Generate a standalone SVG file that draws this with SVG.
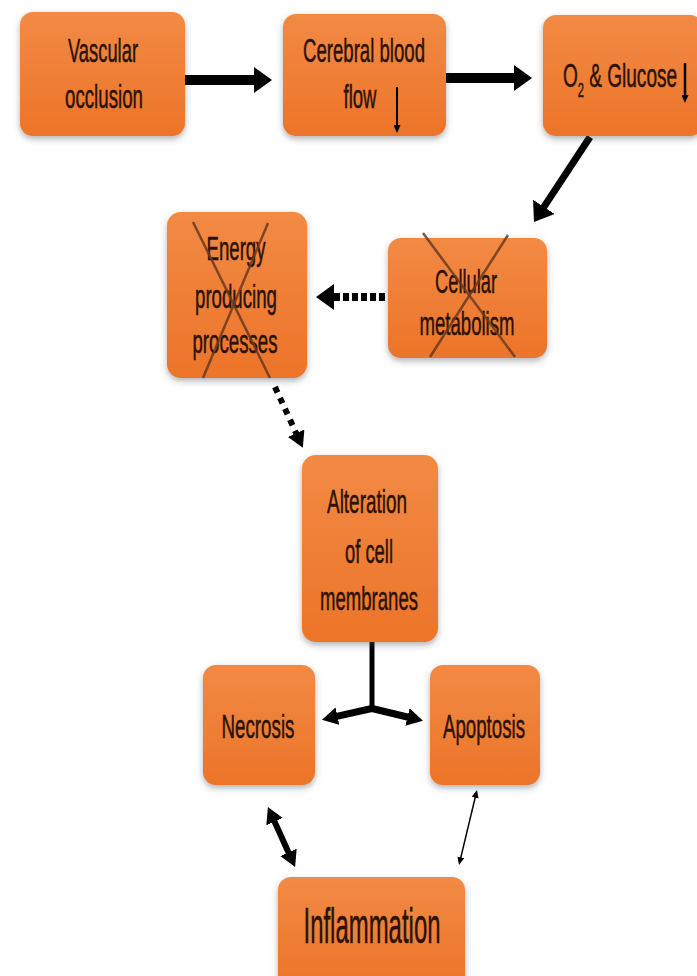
<svg xmlns="http://www.w3.org/2000/svg" width="697" height="976" viewBox="0 0 697 976">
<style>
.box{fill:url(#og);filter:url(#sh)}
.t{font-family:"Liberation Sans",Arial,sans-serif;font-size:34px;fill:#2a1208;stroke:#2a1208;stroke-width:0.5;text-anchor:middle}
.x{stroke:#6a3a1e;stroke-width:2.5;stroke-opacity:0.85;fill:none}
.c{stroke:#000;fill:none}
</style>
<defs>
<linearGradient id="og" x1="0" y1="0" x2="0" y2="1">
<stop offset="0" stop-color="#f28a44"/>
<stop offset="1" stop-color="#ec7429"/>
</linearGradient>
<filter id="sh" x="-10%" y="-10%" width="120%" height="125%">
<feDropShadow dx="0" dy="3" stdDeviation="3" flood-color="#555" flood-opacity="0.45"/>
</filter>
<marker id="hb" markerUnits="userSpaceOnUse" markerWidth="18" markerHeight="26" refX="2" refY="13" orient="auto-start-reverse">
<path d="M0,0 L18,13 L0,26 z" fill="#000"/>
</marker>
<marker id="hm" markerUnits="userSpaceOnUse" markerWidth="16" markerHeight="18" refX="2" refY="9" orient="auto-start-reverse">
<path d="M0,0 L16,9 L0,18 z" fill="#000"/>
</marker>
<marker id="hs" markerUnits="userSpaceOnUse" markerWidth="8" markerHeight="7" refX="2" refY="3.5" orient="auto-start-reverse">
<path d="M0,0 L8,3.5 L0,7 z" fill="#000"/>
</marker>
</defs>
<rect width="697" height="976" fill="#fff"/>

<g id="connectors">
<line class="c" x1="185" y1="80" x2="256" y2="80" stroke-width="10" marker-end="url(#hb)"/>
<line class="c" x1="446" y1="78" x2="516" y2="78" stroke-width="10" marker-end="url(#hb)"/>
<line class="c" x1="590" y1="137" x2="542.8" y2="208.6" stroke-width="7" marker-end="url(#hb)"/>
<line class="c" x1="385" y1="297" x2="332" y2="297" stroke-width="8" stroke-dasharray="6 3" marker-end="url(#hb)"/>
<line class="c" x1="275" y1="387" x2="297" y2="435" stroke-width="6" stroke-dasharray="6 6" marker-end="url(#hm)"/>
<line class="c" x1="372" y1="642" x2="372" y2="709" stroke-width="5"/>
<line class="c" x1="374" y1="708" x2="335.6" y2="716.7" stroke-width="7" marker-end="url(#hm)"/>
<line class="c" x1="370" y1="708" x2="409.4" y2="717.5" stroke-width="7" marker-end="url(#hm)"/>
<line class="c" x1="273.7" y1="819.8" x2="289.3" y2="854.2" stroke-width="6" marker-start="url(#hm)" marker-end="url(#hm)"/>
<line class="c" x1="475.6" y1="795.8" x2="460.4" y2="859.2" stroke-width="1.5" marker-start="url(#hs)" marker-end="url(#hs)"/>
</g>

<g id="vascular-occlusion">
<rect class="box" x="20" y="12" width="165" height="124" rx="13"/>
<text class="t" x="103" y="62" textLength="70" lengthAdjust="spacingAndGlyphs">Vascular</text>
<text class="t" x="104" y="108" textLength="78" lengthAdjust="spacingAndGlyphs">occlusion</text>
</g>

<g id="cerebral-blood-flow">
<rect class="box" x="283" y="14" width="163" height="122" rx="13"/>
<text class="t" x="364" y="62" textLength="122" lengthAdjust="spacingAndGlyphs">Cerebral blood</text>
<text class="t" x="360" y="108" textLength="33" lengthAdjust="spacingAndGlyphs">flow</text>
<line class="c" x1="397" y1="87" x2="397" y2="127" stroke-width="2" marker-end="url(#hs)"/>
</g>

<g id="o2-glucose">
<rect class="box" x="543" y="15" width="160" height="121" rx="13"/>
<text class="t" transform="translate(620,87) scale(0.56,1)" x="0" y="0">O<tspan dy="10" style="font-size:20px">2</tspan><tspan dy="-10"> &amp; Glucose</tspan></text>
<line class="c" x1="685" y1="63" x2="685" y2="97" stroke-width="2.5" marker-end="url(#hs)"/>
</g>

<g id="energy-producing">
<rect class="box" x="167" y="212" width="140" height="166" rx="14"/>
<text class="t" x="236" y="260" textLength="59" lengthAdjust="spacingAndGlyphs">Energy</text>
<text class="t" x="236" y="308" textLength="82" lengthAdjust="spacingAndGlyphs">producing</text>
<text class="t" x="235" y="353" textLength="85" lengthAdjust="spacingAndGlyphs">processes</text>
<line class="x" x1="193" y1="222" x2="270" y2="378"/>
<line class="x" x1="268" y1="223" x2="203" y2="378"/>
</g>

<g id="cellular-metabolism">
<rect class="box" x="388" y="238" width="159" height="120" rx="13"/>
<text class="t" x="466" y="293" textLength="62" lengthAdjust="spacingAndGlyphs">Cellular</text>
<text class="t" x="467" y="335" textLength="95" lengthAdjust="spacingAndGlyphs">metabolism</text>
<line class="x" x1="423" y1="233" x2="515" y2="357"/>
<line class="x" x1="508" y1="235" x2="430" y2="357"/>
</g>

<g id="alteration">
<rect class="box" x="302" y="455" width="136" height="187" rx="14"/>
<text class="t" x="367" y="513" textLength="80" lengthAdjust="spacingAndGlyphs">Alteration</text>
<text class="t" x="369" y="563" textLength="48" lengthAdjust="spacingAndGlyphs">of cell</text>
<text class="t" x="369" y="610" textLength="98" lengthAdjust="spacingAndGlyphs">membranes</text>
</g>

<g id="necrosis">
<rect class="box" x="203" y="665" width="112" height="120" rx="13"/>
<text class="t" x="258" y="738" textLength="73" lengthAdjust="spacingAndGlyphs">Necrosis</text>
</g>

<g id="apoptosis">
<rect class="box" x="430" y="665" width="110" height="120" rx="13"/>
<text class="t" x="484" y="738" textLength="82" lengthAdjust="spacingAndGlyphs">Apoptosis</text>
</g>

<g id="inflammation">
<rect class="box" x="278" y="877" width="187" height="110" rx="13"/>
<text class="t" x="372" y="943" style="font-size:50px" textLength="137" lengthAdjust="spacingAndGlyphs">Inflammation</text>
</g>
</svg>
